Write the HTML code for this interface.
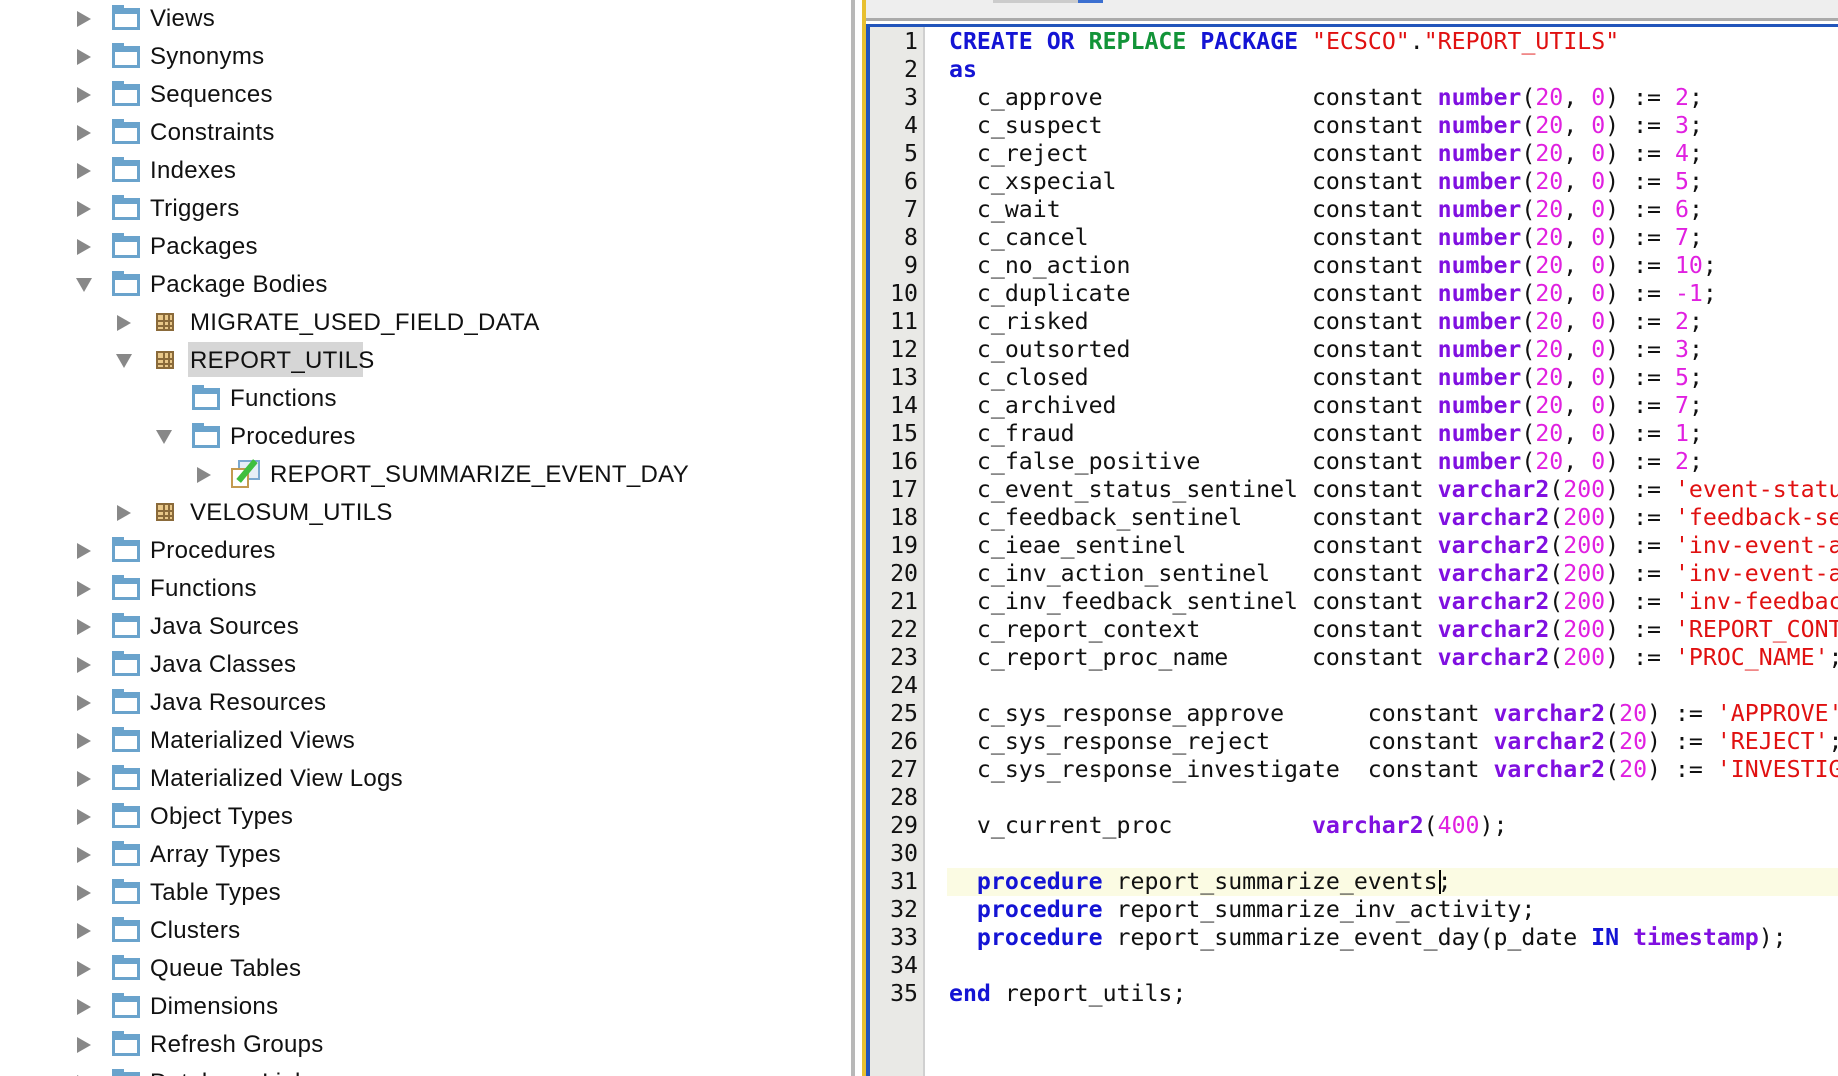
<!DOCTYPE html>
<html><head><meta charset="utf-8"><style>
*{margin:0;padding:0;box-sizing:border-box}
html,body{width:1838px;height:1076px;overflow:hidden}
body{background:#fff;position:relative;font-family:"Liberation Sans",sans-serif}
.row{position:absolute;height:38px;line-height:38px;font-size:24px;color:#111;white-space:nowrap;letter-spacing:0.3px}
.tri{position:absolute;width:0;height:0}
.tr{border-top:8px solid transparent;border-bottom:8px solid transparent;border-left:14px solid #888}
.td{border-left:8px solid transparent;border-right:8px solid transparent;border-top:14px solid #888}
.fold{position:absolute;width:28px;height:22px;border:3px solid #6aa3cc;border-top-width:6px;background:#fff}
.fold:before{content:"";position:absolute;left:-3px;top:-9px;width:12px;height:4px;background:#6aa3cc}
.pkg{position:absolute;width:18px;height:18px;background:#e9c88a;border:2px solid #8a6a3a}
.pkg:before{content:"";position:absolute;left:5px;top:-2px;width:2px;height:18px;background:#8a6a3a;box-shadow:5px 0 0 #8a6a3a}
.pkg:after{content:"";position:absolute;top:5px;left:-2px;height:2px;width:18px;background:#8a6a3a;box-shadow:0 5px 0 #8a6a3a}
#div1{position:absolute;left:851px;top:0;width:4px;height:1076px;background:#b8b8b8}
#div2{position:absolute;left:862px;top:0;width:4px;height:1076px;background:#e8c030}
#tool{position:absolute;left:866px;top:0;width:972px;height:21px;background:#eeeeee;border-bottom:3px solid #aaa}
#edl{position:absolute;left:866px;top:24px;width:4px;height:1052px;background:#2255bb}
#edt{position:absolute;left:866px;top:24px;width:972px;height:3px;background:#2255bb}
#gut{position:absolute;left:870px;top:27px;width:55px;height:1049px;background:#e9e9e6;border-right:2px solid #d0d0d0}
#ed{position:absolute;left:925px;top:27px;width:913px;height:1049px;overflow:hidden}
pre{position:absolute;font-family:"DejaVu Sans Mono",monospace;font-size:23.2px;line-height:28px;white-space:pre;color:#111}
#nums{left:870px;top:28px;width:48px;text-align:right}
#code{left:24px;top:1px}
#hl{position:absolute;left:22px;top:841px;width:891px;height:28px;background:#fbfbe3}
.k{color:#1414d4;font-weight:bold}.g{color:#129438;font-weight:bold}.s{color:#e01010}.n{color:#e020e0}.t{color:#8010e0;font-weight:bold}
</style></head><body>

<div class="tri tr" style="left:77px;top:11px"></div><div class="fold" style="left:112px;top:8px"></div><div class="row" style="left:150px;top:0">Views</div>
<div class="tri tr" style="left:77px;top:49px"></div><div class="fold" style="left:112px;top:46px"></div><div class="row" style="left:150px;top:38px">Synonyms</div>
<div class="tri tr" style="left:77px;top:87px"></div><div class="fold" style="left:112px;top:84px"></div><div class="row" style="left:150px;top:76px">Sequences</div>
<div class="tri tr" style="left:77px;top:125px"></div><div class="fold" style="left:112px;top:122px"></div><div class="row" style="left:150px;top:114px">Constraints</div>
<div class="tri tr" style="left:77px;top:163px"></div><div class="fold" style="left:112px;top:160px"></div><div class="row" style="left:150px;top:152px">Indexes</div>
<div class="tri tr" style="left:77px;top:201px"></div><div class="fold" style="left:112px;top:198px"></div><div class="row" style="left:150px;top:190px">Triggers</div>
<div class="tri tr" style="left:77px;top:239px"></div><div class="fold" style="left:112px;top:236px"></div><div class="row" style="left:150px;top:228px">Packages</div>
<div class="tri td" style="left:76px;top:278px"></div><div class="fold" style="left:112px;top:274px"></div><div class="row" style="left:150px;top:266px">Package Bodies</div>
<div class="tri tr" style="left:117px;top:315px"></div><div class="pkg" style="left:156px;top:313px"></div><div class="row" style="left:190px;top:304px">MIGRATE_USED_FIELD_DATA</div>
<div style="position:absolute;left:188px;top:342px;width:175px;height:35px;background:#d6d6d6"></div>
<div class="tri td" style="left:116px;top:354px"></div><div class="pkg" style="left:156px;top:351px"></div><div class="row" style="left:190px;top:342px">REPORT_UTILS</div>
<div class="fold" style="left:192px;top:388px"></div><div class="row" style="left:230px;top:380px">Functions</div>
<div class="tri td" style="left:156px;top:430px"></div><div class="fold" style="left:192px;top:426px"></div><div class="row" style="left:230px;top:418px">Procedures</div>
<div class="tri tr" style="left:197px;top:467px"></div>
<div style="position:absolute;left:238px;top:460px;width:22px;height:20px;background:#e6eef6;border:2px solid #7aa8d0"></div>
<div style="position:absolute;left:231px;top:468px;width:18px;height:20px;background:#fff;border:2px solid #c49a50"></div>
<div style="position:absolute;left:244px;top:458px;width:6px;height:26px;background:#3fbf3f;transform:rotate(40deg)"></div>
<div class="row" style="left:270px;top:456px">REPORT_SUMMARIZE_EVENT_DAY</div>
<div class="tri tr" style="left:117px;top:505px"></div><div class="pkg" style="left:156px;top:503px"></div><div class="row" style="left:190px;top:494px">VELOSUM_UTILS</div>
<div class="tri tr" style="left:77px;top:543px"></div><div class="fold" style="left:112px;top:540px"></div><div class="row" style="left:150px;top:532px">Procedures</div>
<div class="tri tr" style="left:77px;top:581px"></div><div class="fold" style="left:112px;top:578px"></div><div class="row" style="left:150px;top:570px">Functions</div>
<div class="tri tr" style="left:77px;top:619px"></div><div class="fold" style="left:112px;top:616px"></div><div class="row" style="left:150px;top:608px">Java Sources</div>
<div class="tri tr" style="left:77px;top:657px"></div><div class="fold" style="left:112px;top:654px"></div><div class="row" style="left:150px;top:646px">Java Classes</div>
<div class="tri tr" style="left:77px;top:695px"></div><div class="fold" style="left:112px;top:692px"></div><div class="row" style="left:150px;top:684px">Java Resources</div>
<div class="tri tr" style="left:77px;top:733px"></div><div class="fold" style="left:112px;top:730px"></div><div class="row" style="left:150px;top:722px">Materialized Views</div>
<div class="tri tr" style="left:77px;top:771px"></div><div class="fold" style="left:112px;top:768px"></div><div class="row" style="left:150px;top:760px">Materialized View Logs</div>
<div class="tri tr" style="left:77px;top:809px"></div><div class="fold" style="left:112px;top:806px"></div><div class="row" style="left:150px;top:798px">Object Types</div>
<div class="tri tr" style="left:77px;top:847px"></div><div class="fold" style="left:112px;top:844px"></div><div class="row" style="left:150px;top:836px">Array Types</div>
<div class="tri tr" style="left:77px;top:885px"></div><div class="fold" style="left:112px;top:882px"></div><div class="row" style="left:150px;top:874px">Table Types</div>
<div class="tri tr" style="left:77px;top:923px"></div><div class="fold" style="left:112px;top:920px"></div><div class="row" style="left:150px;top:912px">Clusters</div>
<div class="tri tr" style="left:77px;top:961px"></div><div class="fold" style="left:112px;top:958px"></div><div class="row" style="left:150px;top:950px">Queue Tables</div>
<div class="tri tr" style="left:77px;top:999px"></div><div class="fold" style="left:112px;top:996px"></div><div class="row" style="left:150px;top:988px">Dimensions</div>
<div class="tri tr" style="left:77px;top:1037px"></div><div class="fold" style="left:112px;top:1034px"></div><div class="row" style="left:150px;top:1026px">Refresh Groups</div>
<div class="tri tr" style="left:77px;top:1075px"></div><div class="fold" style="left:112px;top:1072px"></div><div class="row" style="left:150px;top:1064px">Database Links</div>

<div id="div1"></div><div id="div2"></div>
<div id="tool"></div>
<div style="position:absolute;left:993px;top:0;width:110px;height:3px;background:#ccc"></div>
<div style="position:absolute;left:1078px;top:0;width:25px;height:3px;background:#3b6fd0"></div>
<div id="edt"></div><div id="edl"></div>
<div id="gut"></div>
<pre id="nums">1
2
3
4
5
6
7
8
9
10
11
12
13
14
15
16
17
18
19
20
21
22
23
24
25
26
27
28
29
30
31
32
33
34
35</pre>
<div id="ed">
<div id="hl"></div>
<div style="position:absolute;left:514px;top:843px;width:2px;height:24px;background:#000"></div>
<pre id="code"><span class="k">CREATE OR</span> <span class="g">REPLACE</span> <span class="k">PACKAGE</span> <span class="s">"ECSCO"</span>.<span class="s">"REPORT_UTILS"</span>
<span class="k">as</span>
  c_approve               constant <span class="t">number</span>(<span class="n">20</span>, <span class="n">0</span>) := <span class="n">2</span>;
  c_suspect               constant <span class="t">number</span>(<span class="n">20</span>, <span class="n">0</span>) := <span class="n">3</span>;
  c_reject                constant <span class="t">number</span>(<span class="n">20</span>, <span class="n">0</span>) := <span class="n">4</span>;
  c_xspecial              constant <span class="t">number</span>(<span class="n">20</span>, <span class="n">0</span>) := <span class="n">5</span>;
  c_wait                  constant <span class="t">number</span>(<span class="n">20</span>, <span class="n">0</span>) := <span class="n">6</span>;
  c_cancel                constant <span class="t">number</span>(<span class="n">20</span>, <span class="n">0</span>) := <span class="n">7</span>;
  c_no_action             constant <span class="t">number</span>(<span class="n">20</span>, <span class="n">0</span>) := <span class="n">10</span>;
  c_duplicate             constant <span class="t">number</span>(<span class="n">20</span>, <span class="n">0</span>) := <span class="n">-1</span>;
  c_risked                constant <span class="t">number</span>(<span class="n">20</span>, <span class="n">0</span>) := <span class="n">2</span>;
  c_outsorted             constant <span class="t">number</span>(<span class="n">20</span>, <span class="n">0</span>) := <span class="n">3</span>;
  c_closed                constant <span class="t">number</span>(<span class="n">20</span>, <span class="n">0</span>) := <span class="n">5</span>;
  c_archived              constant <span class="t">number</span>(<span class="n">20</span>, <span class="n">0</span>) := <span class="n">7</span>;
  c_fraud                 constant <span class="t">number</span>(<span class="n">20</span>, <span class="n">0</span>) := <span class="n">1</span>;
  c_false_positive        constant <span class="t">number</span>(<span class="n">20</span>, <span class="n">0</span>) := <span class="n">2</span>;
  c_event_status_sentinel constant <span class="t">varchar2</span>(<span class="n">200</span>) := <span class="s">'event-status-sentinel'</span>;
  c_feedback_sentinel     constant <span class="t">varchar2</span>(<span class="n">200</span>) := <span class="s">'feedback-sentinel'</span>;
  c_ieae_sentinel         constant <span class="t">varchar2</span>(<span class="n">200</span>) := <span class="s">'inv-event-action'</span>;
  c_inv_action_sentinel   constant <span class="t">varchar2</span>(<span class="n">200</span>) := <span class="s">'inv-event-action'</span>;
  c_inv_feedback_sentinel constant <span class="t">varchar2</span>(<span class="n">200</span>) := <span class="s">'inv-feedback'</span>;
  c_report_context        constant <span class="t">varchar2</span>(<span class="n">200</span>) := <span class="s">'REPORT_CONTEXT'</span>;
  c_report_proc_name      constant <span class="t">varchar2</span>(<span class="n">200</span>) := <span class="s">'PROC_NAME'</span>;

  c_sys_response_approve      constant <span class="t">varchar2</span>(<span class="n">20</span>) := <span class="s">'APPROVE'</span>;
  c_sys_response_reject       constant <span class="t">varchar2</span>(<span class="n">20</span>) := <span class="s">'REJECT'</span>;
  c_sys_response_investigate  constant <span class="t">varchar2</span>(<span class="n">20</span>) := <span class="s">'INVESTIGATE'</span>;

  v_current_proc          <span class="t">varchar2</span>(<span class="n">400</span>);

  <span class="k">procedure</span> report_summarize_events;
  <span class="k">procedure</span> report_summarize_inv_activity;
  <span class="k">procedure</span> report_summarize_event_day(p_date <span class="k">IN</span> <span class="t">timestamp</span>);

<span class="k">end</span> report_utils;</pre>
</div>
</body></html>
